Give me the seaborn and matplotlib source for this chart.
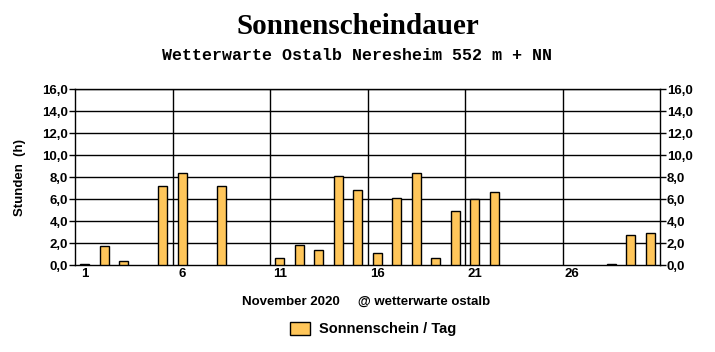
import matplotlib.pyplot as plt
import numpy as np
import pandas as pd
import seaborn as sns
from matplotlib.patches import Patch

# Sonnenscheindauer November 2020, Stunden pro Tag
DAYS = list(range(1, 31))
SUN_HOURS = [0.05, 1.7, 0.35, 0.0, 7.2, 8.35, 0.0, 7.2, 0.0, 0.0,
             0.6, 1.8, 1.35, 8.1, 6.8, 1.1, 6.1, 8.35, 0.6, 4.9,
             6.0, 6.6, 0.0, 0.0, 0.0, 0.0, 0.0, 0.05, 2.7, 2.9]
YTICKS = [0, 2, 4, 6, 8, 10, 12, 14, 16]
XLABEL_DAYS = [1, 6, 11, 16, 21, 26]

BAR = "#FFC65A"
SANS = "Liberation Sans"

sns.set_style("white")
plt.rcParams["font.family"] = [SANS, "DejaVu Sans"]
plt.rcParams["text.color"] = "black"
plt.rcParams["axes.labelcolor"] = "black"
plt.rcParams["xtick.color"] = "black"
plt.rcParams["ytick.color"] = "black"

df = pd.DataFrame({"day": DAYS, "hours": SUN_HOURS})
df["hours"] = df["hours"].replace(0.0, np.nan)  # Tage ohne Sonne: kein Balken

fig = plt.figure(figsize=(7.15, 3.52), dpi=100)
ax = fig.add_axes([75 / 715, 1 - 265 / 352, 585 / 715, 176 / 352])

sns.barplot(data=df, x="day", y="hours", order=DAYS, color=BAR,
            saturation=1, width=0.47, edgecolor="black", linewidth=1,
            ax=ax, zorder=3)

ax.set_xlim(-0.5, len(DAYS) - 0.5)
ax.set_ylim(0, 16)

# grid
for y in YTICKS[1:]:
    ax.axhline(y, color="black", lw=1, zorder=1)
for b in np.arange(4.5, len(DAYS) - 0.5, 5):
    ax.axvline(b, color="black", lw=1, zorder=1)

ax.set_xticks([d - 1 for d in XLABEL_DAYS])
ax.set_xticklabels([str(d) for d in XLABEL_DAYS], fontweight="bold", fontsize=9.5)
ax.set_xticks(np.arange(0.5, len(DAYS) - 1, 1), minor=True)
ax.tick_params(axis="x", which="major", length=0, pad=2)
ax.tick_params(axis="x", which="minor", direction="in", length=4, width=1, color="black")

ax.set_yticks(YTICKS)
ax.set_yticklabels([f"{v:.1f}".replace(".", ",") for v in YTICKS],
                   fontweight="bold", fontsize=9.5)
ax.tick_params(axis="y", which="major", direction="out", length=4, width=1,
               color="black", left=True, right=True, labelleft=True,
               labelright=True, pad=1)

for s in ax.spines.values():
    s.set_color("black")
    s.set_linewidth(1)

ax.set_xlabel("")
ax.set_ylabel("Stunden  (h)", fontweight="bold", fontsize=9.5, labelpad=12)

fig.text(0.5, 1 - 26 / 352, "Sonnenscheindauer", ha="center", va="center",
         fontsize=21, fontweight="bold", family="Liberation Serif")
fig.text(0.5, 1 - 55 / 352, "Wetterwarte Ostalb Neresheim 552 m + NN",
         ha="center", va="center", fontsize=12, fontweight="bold",
         family="Liberation Mono")
fig.text(366 / 715, 1 - 302 / 352, "November 2020     @ wetterwarte ostalb",
         ha="center", va="center", fontsize=9.5, fontweight="bold")

fig.legend(handles=[Patch(facecolor=BAR, edgecolor="black", label="Sonnenschein / Tag")],
           loc="center", bbox_to_anchor=(0.522, 1 - 329 / 352), frameon=False,
           prop={"weight": "bold", "size": 10.5}, handlelength=1.4,
           handleheight=1.0, handletextpad=0.6)

fig.savefig("out.png", dpi=100, facecolor="white")
